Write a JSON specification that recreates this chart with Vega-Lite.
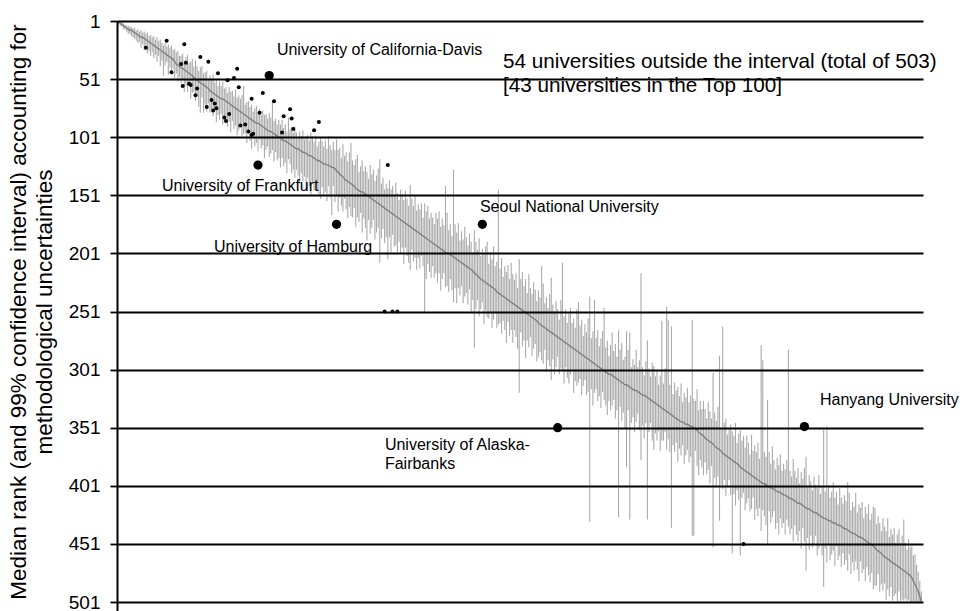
{
"$schema": "https://vega.github.io/schema/vega-lite/v6.json",
"width": 806, "height": 581,
"autosize": {"type": "none"},
"padding": {"left": 117, "top": 21, "right": 37, "bottom": 9},
"background": "white",
"config": {"view": {"stroke": null}, "font": "Liberation Sans"},
"datasets": {
"u": [
{"i":1,"m":1,"l":1,"h":2},{"i":2,"m":2,"l":1,"h":3},{"i":3,"m":3,"l":2,"h":5},{"i":4,"m":4,"l":2,"h":6},{"i":5,"m":5,"l":3,"h":8},{"i":6,"m":6,"l":4,"h":8},{"i":7,"m":7,"l":5,"h":10},{"i":8,"m":8,"l":5,"h":12},{"i":9,"m":9,"l":6,"h":12},{"i":10,"m":9,"l":6,"h":14},
{"i":11,"m":10,"l":7,"h":15},{"i":12,"m":11,"l":7,"h":16},{"i":13,"m":12,"l":9,"h":18},{"i":14,"m":13,"l":8,"h":20},{"i":15,"m":14,"l":10,"h":19},{"i":16,"m":15,"l":9,"h":24},{"i":17,"m":15,"l":11,"h":21},{"i":18,"m":16,"l":10,"h":26},{"i":19,"m":17,"l":12,"h":23},{"i":20,"m":18,"l":11,"h":29},
{"i":21,"m":19,"l":14,"h":27},{"i":22,"m":20,"l":13,"h":31},{"i":23,"m":21,"l":15,"h":28},{"i":24,"m":22,"l":14,"h":33},{"i":25,"m":23,"l":17,"h":30},{"i":26,"m":24,"l":15,"h":36},{"i":27,"m":25,"l":18,"h":31},{"i":28,"m":26,"l":17,"h":40},{"i":29,"m":27,"l":20,"h":35},{"i":30,"m":28,"l":22,"h":48},
{"i":31,"m":29,"l":20,"h":39},{"i":32,"m":30,"l":23,"h":36},{"i":33,"m":31,"l":21,"h":47},{"i":34,"m":32,"l":24,"h":41},{"i":35,"m":33,"l":22,"h":46},{"i":36,"m":34,"l":26,"h":42},{"i":37,"m":36,"l":25,"h":50},{"i":38,"m":38,"l":28,"h":46},{"i":39,"m":39,"l":27,"h":53},{"i":40,"m":40,"l":31,"h":49},
{"i":41,"m":41,"l":31,"h":55},{"i":42,"m":42,"l":29,"h":52},{"i":43,"m":43,"l":35,"h":62},{"i":44,"m":44,"l":32,"h":57},{"i":45,"m":45,"l":30,"h":62},{"i":46,"m":46,"l":37,"h":57},{"i":47,"m":47,"l":36,"h":68},{"i":48,"m":48,"l":34,"h":63},{"i":49,"m":50,"l":40,"h":62},{"i":50,"m":51,"l":35,"h":70},
{"i":51,"m":52,"l":40,"h":66},{"i":52,"m":53,"l":44,"h":75},{"i":53,"m":54,"l":41,"h":80},{"i":54,"m":55,"l":40,"h":67},{"i":55,"m":56,"l":46,"h":80},{"i":56,"m":57,"l":45,"h":73},{"i":57,"m":58,"l":44,"h":79},{"i":58,"m":59,"l":51,"h":72},{"i":59,"m":61,"l":48,"h":80},{"i":60,"m":62,"l":51,"h":77},
{"i":61,"m":63,"l":47,"h":83},{"i":62,"m":64,"l":54,"h":76},{"i":63,"m":65,"l":52,"h":88},{"i":64,"m":66,"l":57,"h":82},{"i":65,"m":67,"l":53,"h":86},{"i":66,"m":68,"l":57,"h":81},{"i":67,"m":68,"l":53,"h":90},{"i":68,"m":69,"l":59,"h":86},{"i":69,"m":70,"l":58,"h":84},{"i":70,"m":71,"l":63,"h":92},
{"i":71,"m":72,"l":58,"h":88},{"i":72,"m":73,"l":62,"h":97},{"i":73,"m":74,"l":61,"h":87},{"i":74,"m":75,"l":66,"h":94},{"i":75,"m":76,"l":60,"h":91},{"i":76,"m":77,"l":67,"h":99},{"i":77,"m":78,"l":65,"h":95},{"i":78,"m":79,"l":68,"h":91},{"i":79,"m":80,"l":65,"h":100},{"i":80,"m":81,"l":57,"h":98},
{"i":81,"m":82,"l":73,"h":98},{"i":82,"m":83,"l":71,"h":106},{"i":83,"m":84,"l":70,"h":98},{"i":84,"m":85,"l":75,"h":104},{"i":85,"m":86,"l":73,"h":111},{"i":86,"m":87,"l":79,"h":102},{"i":87,"m":88,"l":76,"h":109},{"i":88,"m":89,"l":74,"h":106},{"i":89,"m":89,"l":79,"h":113},{"i":90,"m":90,"l":77,"h":103},
{"i":91,"m":91,"l":82,"h":111},{"i":92,"m":92,"l":78,"h":108},{"i":93,"m":93,"l":82,"h":119},{"i":94,"m":94,"l":81,"h":112},{"i":95,"m":95,"l":85,"h":109},{"i":96,"m":96,"l":80,"h":118},{"i":97,"m":96,"l":84,"h":115},{"i":98,"m":97,"l":69,"h":112},{"i":99,"m":98,"l":87,"h":122},{"i":100,"m":99,"l":85,"h":114},
{"i":101,"m":100,"l":90,"h":121},{"i":102,"m":101,"l":86,"h":119},{"i":103,"m":102,"l":90,"h":127},{"i":104,"m":103,"l":86,"h":119},{"i":105,"m":104,"l":93,"h":126},{"i":106,"m":104,"l":90,"h":123},{"i":107,"m":105,"l":96,"h":132},{"i":108,"m":106,"l":84,"h":120},{"i":109,"m":107,"l":94,"h":124},{"i":110,"m":108,"l":92,"h":132},
{"i":111,"m":109,"l":97,"h":129},{"i":112,"m":110,"l":92,"h":136},{"i":113,"m":111,"l":97,"h":129},{"i":114,"m":111,"l":101,"h":134},{"i":115,"m":112,"l":96,"h":141},{"i":116,"m":113,"l":100,"h":132},{"i":117,"m":114,"l":95,"h":139},{"i":118,"m":114,"l":103,"h":135},{"i":119,"m":115,"l":100,"h":146},{"i":120,"m":116,"l":99,"h":136},
{"i":121,"m":117,"l":104,"h":143},{"i":122,"m":117,"l":97,"h":150},{"i":123,"m":118,"l":100,"h":140},{"i":124,"m":119,"l":105,"h":147},{"i":125,"m":120,"l":100,"h":139},{"i":126,"m":121,"l":109,"h":146},{"i":127,"m":121,"l":105,"h":152},{"i":128,"m":122,"l":101,"h":154},{"i":129,"m":123,"l":104,"h":144},{"i":130,"m":124,"l":109,"h":151},
{"i":131,"m":124,"l":104,"h":148},{"i":132,"m":125,"l":111,"h":156},{"i":133,"m":125,"l":100,"h":143},{"i":134,"m":126,"l":108,"h":153},{"i":135,"m":127,"l":112,"h":168},{"i":136,"m":127,"l":105,"h":143},{"i":137,"m":128,"l":112,"h":157},{"i":138,"m":130,"l":103,"h":152},{"i":139,"m":131,"l":112,"h":165},{"i":140,"m":133,"l":110,"h":153},
{"i":141,"m":134,"l":119,"h":160},{"i":142,"m":135,"l":107,"h":165},{"i":143,"m":137,"l":117,"h":154},{"i":144,"m":138,"l":114,"h":163},{"i":145,"m":139,"l":122,"h":171},{"i":146,"m":140,"l":114,"h":161},{"i":147,"m":141,"l":106,"h":169},{"i":148,"m":142,"l":121,"h":170},{"i":149,"m":143,"l":125,"h":162},{"i":150,"m":145,"l":120,"h":178},
{"i":151,"m":146,"l":116,"h":170},{"i":152,"m":147,"l":131,"h":174},{"i":153,"m":148,"l":126,"h":166},{"i":154,"m":148,"l":121,"h":183},{"i":155,"m":149,"l":130,"h":171},{"i":156,"m":150,"l":126,"h":179},{"i":157,"m":151,"l":131,"h":190},{"i":158,"m":152,"l":137,"h":172},{"i":159,"m":153,"l":125,"h":184},{"i":160,"m":154,"l":133,"h":179},
{"i":161,"m":155,"l":129,"h":172},{"i":162,"m":156,"l":139,"h":189},{"i":163,"m":157,"l":134,"h":183},{"i":164,"m":158,"l":128,"h":179},{"i":165,"m":159,"l":120,"h":209},{"i":166,"m":160,"l":141,"h":188},{"i":167,"m":161,"l":136,"h":180},{"i":168,"m":162,"l":146,"h":192},{"i":169,"m":163,"l":141,"h":187},{"i":170,"m":164,"l":145,"h":206},
{"i":171,"m":165,"l":138,"h":187},{"i":172,"m":166,"l":146,"h":200},{"i":173,"m":167,"l":143,"h":185},{"i":174,"m":168,"l":150,"h":195},{"i":175,"m":169,"l":140,"h":194},{"i":176,"m":170,"l":149,"h":201},{"i":177,"m":171,"l":155,"h":191},{"i":178,"m":172,"l":146,"h":201},{"i":179,"m":173,"l":150,"h":196},{"i":180,"m":174,"l":155,"h":210},
{"i":181,"m":175,"l":147,"h":196},{"i":182,"m":176,"l":154,"h":203},{"i":183,"m":177,"l":160,"h":209},{"i":184,"m":178,"l":142,"h":215},{"i":185,"m":179,"l":154,"h":198},{"i":186,"m":180,"l":160,"h":208},{"i":187,"m":181,"l":151,"h":205},{"i":188,"m":182,"l":164,"h":215},{"i":189,"m":183,"l":159,"h":205},{"i":190,"m":184,"l":163,"h":214},
{"i":191,"m":185,"l":158,"h":203},{"i":192,"m":186,"l":170,"h":212},{"i":193,"m":187,"l":158,"h":252},{"i":194,"m":188,"l":165,"h":223},{"i":195,"m":189,"l":160,"h":210},{"i":196,"m":190,"l":171,"h":217},{"i":197,"m":191,"l":166,"h":222},{"i":198,"m":192,"l":170,"h":212},{"i":199,"m":193,"l":176,"h":222},{"i":200,"m":194,"l":166,"h":218},
{"i":201,"m":195,"l":171,"h":226},{"i":202,"m":196,"l":165,"h":218},{"i":203,"m":197,"l":178,"h":233},{"i":204,"m":198,"l":171,"h":223},{"i":205,"m":199,"l":177,"h":218},{"i":206,"m":200,"l":143,"h":230},{"i":207,"m":201,"l":166,"h":229},{"i":208,"m":201,"l":181,"h":234},{"i":209,"m":202,"l":176,"h":223},{"i":210,"m":203,"l":186,"h":233},
{"i":211,"m":204,"l":129,"h":243},{"i":212,"m":205,"l":176,"h":231},{"i":213,"m":206,"l":183,"h":244},{"i":214,"m":207,"l":175,"h":231},{"i":215,"m":208,"l":190,"h":237},{"i":216,"m":209,"l":182,"h":229},{"i":217,"m":210,"l":189,"h":244},{"i":218,"m":211,"l":178,"h":238},{"i":219,"m":212,"l":187,"h":235},{"i":220,"m":213,"l":194,"h":245},
{"i":221,"m":214,"l":184,"h":232},{"i":222,"m":215,"l":191,"h":251},{"i":223,"m":216,"l":200,"h":241},{"i":224,"m":218,"l":181,"h":282},{"i":225,"m":219,"l":191,"h":249},{"i":226,"m":220,"l":198,"h":241},{"i":227,"m":222,"l":188,"h":255},{"i":228,"m":223,"l":203,"h":249},{"i":229,"m":224,"l":197,"h":243},{"i":230,"m":225,"l":202,"h":262},
{"i":231,"m":226,"l":195,"h":250},{"i":232,"m":227,"l":191,"h":256},{"i":233,"m":228,"l":210,"h":257},{"i":234,"m":229,"l":200,"h":251},{"i":235,"m":230,"l":206,"h":265},{"i":236,"m":231,"l":195,"h":258},{"i":237,"m":232,"l":212,"h":252},{"i":238,"m":234,"l":208,"h":265},{"i":239,"m":235,"l":146,"h":262},{"i":240,"m":236,"l":214,"h":261},
{"i":241,"m":237,"l":205,"h":270},{"i":242,"m":238,"l":221,"h":259},{"i":243,"m":239,"l":212,"h":267},{"i":244,"m":240,"l":217,"h":278},{"i":245,"m":241,"l":211,"h":260},{"i":246,"m":242,"l":223,"h":272},{"i":247,"m":243,"l":209,"h":267},{"i":248,"m":244,"l":219,"h":278},{"i":249,"m":245,"l":224,"h":267},{"i":250,"m":246,"l":218,"h":273},
{"i":251,"m":247,"l":231,"h":283},{"i":252,"m":248,"l":206,"h":321},{"i":253,"m":249,"l":223,"h":269},{"i":254,"m":250,"l":217,"h":281},{"i":255,"m":251,"l":229,"h":276},{"i":256,"m":252,"l":223,"h":291},{"i":257,"m":253,"l":235,"h":276},{"i":258,"m":254,"l":219,"h":282},{"i":259,"m":255,"l":231,"h":273},{"i":260,"m":256,"l":236,"h":289},
{"i":261,"m":257,"l":226,"h":283},{"i":262,"m":258,"l":232,"h":279},{"i":263,"m":259,"l":242,"h":294},{"i":264,"m":261,"l":233,"h":290},{"i":265,"m":262,"l":239,"h":286},{"i":266,"m":263,"l":212,"h":293},{"i":267,"m":264,"l":227,"h":296},{"i":268,"m":265,"l":244,"h":284},{"i":269,"m":266,"l":239,"h":303},{"i":270,"m":267,"l":248,"h":293},
{"i":271,"m":268,"l":236,"h":298},{"i":272,"m":269,"l":222,"h":310},{"i":273,"m":270,"l":245,"h":292},{"i":274,"m":271,"l":251,"h":305},{"i":275,"m":272,"l":242,"h":299},{"i":276,"m":273,"l":249,"h":290},{"i":277,"m":274,"l":258,"h":305},{"i":278,"m":275,"l":241,"h":300},{"i":279,"m":276,"l":209,"h":301},{"i":280,"m":277,"l":255,"h":313},
{"i":281,"m":278,"l":249,"h":299},{"i":282,"m":279,"l":261,"h":308},{"i":283,"m":280,"l":253,"h":313},{"i":284,"m":281,"l":248,"h":305},{"i":285,"m":282,"l":261,"h":301},{"i":286,"m":283,"l":257,"h":321},{"i":287,"m":284,"l":265,"h":311},{"i":288,"m":285,"l":249,"h":315},{"i":289,"m":286,"l":243,"h":312},{"i":290,"m":287,"l":263,"h":309},
{"i":291,"m":288,"l":258,"h":323},{"i":292,"m":289,"l":272,"h":315},{"i":293,"m":290,"l":262,"h":310},{"i":294,"m":291,"l":269,"h":323},{"i":295,"m":292,"l":257,"h":320},{"i":296,"m":293,"l":238,"h":432},{"i":297,"m":294,"l":274,"h":318},{"i":298,"m":295,"l":268,"h":332},{"i":299,"m":296,"l":241,"h":321},{"i":300,"m":297,"l":274,"h":318},
{"i":301,"m":298,"l":267,"h":328},{"i":302,"m":299,"l":281,"h":324},{"i":303,"m":300,"l":274,"h":334},{"i":304,"m":301,"l":268,"h":320},{"i":305,"m":302,"l":248,"h":327},{"i":306,"m":303,"l":282,"h":332},{"i":307,"m":304,"l":276,"h":340},{"i":308,"m":305,"l":289,"h":328},{"i":309,"m":305,"l":280,"h":336},{"i":310,"m":306,"l":269,"h":332},
{"i":311,"m":307,"l":285,"h":327},{"i":312,"m":308,"l":279,"h":343},{"i":313,"m":309,"l":290,"h":336},{"i":314,"m":310,"l":267,"h":428},{"i":315,"m":311,"l":284,"h":333},{"i":316,"m":312,"l":278,"h":345},{"i":317,"m":313,"l":293,"h":338},{"i":318,"m":314,"l":290,"h":352},{"i":319,"m":314,"l":268,"h":385},{"i":320,"m":315,"l":284,"h":336},
{"i":321,"m":316,"l":269,"h":430},{"i":322,"m":317,"l":299,"h":347},{"i":323,"m":318,"l":292,"h":342},{"i":324,"m":319,"l":297,"h":355},{"i":325,"m":319,"l":284,"h":346},{"i":326,"m":320,"l":299,"h":339},{"i":327,"m":321,"l":293,"h":353},{"i":328,"m":322,"l":218,"h":379},{"i":329,"m":323,"l":299,"h":349},{"i":330,"m":323,"l":306,"h":360},
{"i":331,"m":324,"l":294,"h":347},{"i":332,"m":325,"l":276,"h":430},{"i":333,"m":326,"l":300,"h":355},{"i":334,"m":327,"l":307,"h":347},{"i":335,"m":328,"l":295,"h":362},{"i":336,"m":329,"l":298,"h":370},{"i":337,"m":330,"l":307,"h":356},{"i":338,"m":331,"l":302,"h":362},{"i":339,"m":332,"l":314,"h":354},{"i":340,"m":333,"l":306,"h":371},
{"i":341,"m":334,"l":259,"h":362},{"i":342,"m":335,"l":313,"h":362},{"i":343,"m":336,"l":300,"h":355},{"i":344,"m":337,"l":247,"h":370},{"i":345,"m":338,"l":258,"h":361},{"i":346,"m":339,"l":314,"h":372},{"i":347,"m":340,"l":264,"h":437},{"i":348,"m":341,"l":322,"h":366},{"i":349,"m":342,"l":312,"h":372},{"i":350,"m":343,"l":319,"h":364},
{"i":351,"m":344,"l":316,"h":380},{"i":352,"m":345,"l":324,"h":369},{"i":353,"m":346,"l":313,"h":375},{"i":354,"m":346,"l":329,"h":366},{"i":355,"m":347,"l":321,"h":382},{"i":356,"m":348,"l":325,"h":375},{"i":357,"m":348,"l":317,"h":370},{"i":358,"m":349,"l":329,"h":381},{"i":359,"m":350,"l":323,"h":376},{"i":360,"m":350,"l":258,"h":444},
{"i":361,"m":351,"l":326,"h":444},{"i":362,"m":352,"l":328,"h":371},{"i":363,"m":353,"l":318,"h":384},{"i":364,"m":355,"l":336,"h":392},{"i":365,"m":356,"l":328,"h":379},{"i":366,"m":357,"l":335,"h":385},{"i":367,"m":358,"l":328,"h":392},{"i":368,"m":360,"l":335,"h":381},{"i":369,"m":361,"l":343,"h":391},{"i":370,"m":362,"l":329,"h":387},
{"i":371,"m":363,"l":337,"h":399},{"i":372,"m":364,"l":343,"h":384},{"i":373,"m":365,"l":304,"h":454},{"i":374,"m":367,"l":338,"h":394},{"i":375,"m":368,"l":345,"h":401},{"i":376,"m":369,"l":333,"h":393},{"i":377,"m":370,"l":289,"h":431},{"i":378,"m":371,"l":351,"h":400},{"i":379,"m":373,"l":264,"h":404},{"i":380,"m":374,"l":347,"h":396},
{"i":381,"m":375,"l":343,"h":410},{"i":382,"m":376,"l":357,"h":402},{"i":383,"m":377,"l":352,"h":396},{"i":384,"m":378,"l":348,"h":409},{"i":385,"m":379,"l":354,"h":459},{"i":386,"m":380,"l":358,"h":408},{"i":387,"m":381,"l":347,"h":418},{"i":388,"m":382,"l":364,"h":405},{"i":389,"m":383,"l":356,"h":413},{"i":390,"m":385,"l":353,"h":461},
{"i":391,"m":386,"l":362,"h":411},{"i":392,"m":387,"l":358,"h":407},{"i":393,"m":388,"l":368,"h":422},{"i":394,"m":389,"l":358,"h":416},{"i":395,"m":390,"l":364,"h":412},{"i":396,"m":391,"l":374,"h":423},{"i":397,"m":392,"l":357,"h":421},{"i":398,"m":393,"l":371,"h":411},{"i":399,"m":394,"l":366,"h":430},{"i":400,"m":395,"l":372,"h":421},
{"i":401,"m":396,"l":364,"h":427},{"i":402,"m":397,"l":378,"h":420},{"i":403,"m":398,"l":280,"h":440},{"i":404,"m":399,"l":293,"h":422},{"i":405,"m":399,"l":372,"h":427},{"i":406,"m":400,"l":376,"h":435},{"i":407,"m":401,"l":327,"h":451},{"i":408,"m":402,"l":372,"h":423},{"i":409,"m":403,"l":382,"h":433},{"i":410,"m":403,"l":367,"h":428},
{"i":411,"m":404,"l":379,"h":423},{"i":412,"m":405,"l":387,"h":438},{"i":413,"m":406,"l":377,"h":433},{"i":414,"m":406,"l":383,"h":443},{"i":415,"m":407,"l":374,"h":429},{"i":416,"m":408,"l":388,"h":437},{"i":417,"m":409,"l":382,"h":433},{"i":418,"m":409,"l":387,"h":443},{"i":419,"m":410,"l":379,"h":430},{"i":420,"m":411,"l":284,"h":436},
{"i":421,"m":412,"l":388,"h":443},{"i":422,"m":412,"l":393,"h":438},{"i":423,"m":413,"l":378,"h":449},{"i":424,"m":414,"l":388,"h":435},{"i":425,"m":415,"l":394,"h":443},{"i":426,"m":416,"l":386,"h":449},{"i":427,"m":416,"l":399,"h":440},{"i":428,"m":417,"l":389,"h":455},{"i":429,"m":418,"l":395,"h":437},{"i":430,"m":419,"l":386,"h":449},
{"i":431,"m":420,"l":376,"h":474},{"i":432,"m":421,"l":401,"h":446},{"i":433,"m":421,"l":392,"h":456},{"i":434,"m":422,"l":397,"h":444},{"i":435,"m":423,"l":405,"h":454},{"i":436,"m":424,"l":393,"h":451},{"i":437,"m":424,"l":400,"h":444},{"i":438,"m":425,"l":403,"h":461},{"i":439,"m":426,"l":392,"h":455},{"i":440,"m":427,"l":408,"h":450},
{"i":441,"m":428,"l":401,"h":461},{"i":442,"m":429,"l":353,"h":488},{"i":443,"m":429,"l":406,"h":455},{"i":444,"m":430,"l":350,"h":467},{"i":445,"m":431,"l":401,"h":452},{"i":446,"m":431,"l":411,"h":465},{"i":447,"m":432,"l":406,"h":460},{"i":448,"m":433,"l":398,"h":457},{"i":449,"m":433,"l":411,"h":470},{"i":450,"m":434,"l":406,"h":453},
{"i":451,"m":435,"l":417,"h":465},{"i":452,"m":435,"l":403,"h":461},{"i":453,"m":436,"l":411,"h":471},{"i":454,"m":437,"l":416,"h":459},{"i":455,"m":438,"l":409,"h":469},{"i":456,"m":438,"l":414,"h":465},{"i":457,"m":439,"l":398,"h":474},{"i":458,"m":440,"l":407,"h":460},{"i":459,"m":441,"l":422,"h":477},{"i":460,"m":442,"l":415,"h":467},
{"i":461,"m":442,"l":419,"h":474},{"i":462,"m":443,"l":407,"h":466},{"i":463,"m":444,"l":424,"h":473},{"i":464,"m":445,"l":417,"h":483},{"i":465,"m":445,"l":420,"h":466},{"i":466,"m":446,"l":415,"h":476},{"i":467,"m":447,"l":429,"h":473},{"i":468,"m":448,"l":419,"h":483},{"i":469,"m":449,"l":425,"h":471},{"i":470,"m":450,"l":417,"h":478},
{"i":471,"m":451,"l":430,"h":484},{"i":472,"m":452,"l":425,"h":476},{"i":473,"m":453,"l":419,"h":490},{"i":474,"m":454,"l":420,"h":487},{"i":475,"m":456,"l":434,"h":487},{"i":476,"m":457,"l":427,"h":477},{"i":477,"m":458,"l":433,"h":492},{"i":478,"m":459,"l":440,"h":486},{"i":479,"m":461,"l":429,"h":491},{"i":480,"m":462,"l":436,"h":485},
{"i":481,"m":463,"l":440,"h":499},{"i":482,"m":464,"l":429,"h":490},{"i":483,"m":465,"l":445,"h":496},{"i":484,"m":466,"l":438,"h":488},{"i":485,"m":467,"l":443,"h":500},{"i":486,"m":468,"l":437,"h":496},{"i":487,"m":469,"l":450,"h":494},{"i":488,"m":470,"l":443,"h":501},{"i":489,"m":471,"l":438,"h":492},{"i":490,"m":472,"l":450,"h":501},
{"i":491,"m":473,"l":444,"h":499},{"i":492,"m":474,"l":430,"h":500},{"i":493,"m":475,"l":450,"h":498},{"i":494,"m":476,"l":456,"h":502},{"i":495,"m":477,"l":447,"h":499},{"i":496,"m":478,"l":454,"h":502},{"i":497,"m":480,"l":453,"h":501},{"i":498,"m":483,"l":461,"h":502},{"i":499,"m":486,"l":460,"h":502},{"i":500,"m":489,"l":469,"h":502},
{"i":501,"m":492,"l":475,"h":503},{"i":502,"m":496,"l":483,"h":503},{"i":503,"m":501,"l":492,"h":503}
],
"out": [
{"i":19,"r":24},{"i":32,"r":18},{"i":43,"r":21},{"i":35,"r":45},{"i":41,"r":38},{"i":44,"r":37},{"i":53,"r":32},{"i":58,"r":36},{"i":42,"r":57},{"i":46,"r":55},{"i":47,"r":56},{"i":51,"r":59},{"i":50,"r":65},{"i":64,"r":46},{"i":70,"r":52},{"i":74,"r":50},{"i":76,"r":42},{"i":77,"r":58},{"i":57,"r":75},{"i":60,"r":69},{"i":62,"r":72},{"i":61,"r":78},{"i":63,"r":76},{"i":68,"r":84},{"i":69,"r":87},{"i":71,"r":81},{"i":78,"r":91},{"i":81,"r":90},{"i":83,"r":96},{"i":85,"r":99},{"i":86,"r":98},{"i":85,"r":68},{"i":92,"r":63},{"i":90,"r":80},{"i":99,"r":70},{"i":104,"r":97},{"i":105,"r":83},{"i":109,"r":77},{"i":110,"r":85},{"i":111,"r":94},{"i":124,"r":95},{"i":127,"r":88},{"i":170,"r":125},{"i":168,"r":251},{"i":173,"r":251},{"i":176,"r":251},{"i":392,"r":451}
],
"big": [
{"i":96,"r":48,"name":"University of California-Davis"},{"i":89,"r":125,"name":"University of Frankfurt"},{"i":138,"r":176,"name":"University of Hamburg"},{"i":229,"r":176,"name":"Seoul National University"},{"i":276,"r":351,"name":"University of Alaska-Fairbanks"},{"i":430,"r":350,"name":"Hanyang University"}
],
"labels": [
{"i":100.8,"r":26,"t":"University of California-Davis"},{"i":29.1,"r":143,"t":"University of Frankfurt"},{"i":61.5,"r":195.5,"t":"University of Hamburg"},{"i":227.5,"r":161,"t":"Seoul National University"},{"i":168.2,"r":366,"t":"University of Alaska-"},{"i":168.2,"r":382,"t":"Fairbanks"},{"i":439.7,"r":327,"t":"Hanyang University"}
],
"notes": [
{"i":241.9,"r":36.3,"t":"54 universities outside the interval (total of 503)"},{"i":241.9,"r":57,"t":"[43 universities in the Top 100]"}
]
},
"layer": [
{
"data": {"name": "u"},
"mark": {"type": "rule", "color": "#aaaaaa", "strokeWidth": 1.1, "clip": true},
"encoding": {
"x": {"field": "i", "type": "quantitative", "scale": {"domain": [1, 504], "nice": false, "zero": false},
"axis": {"values": [1], "labels": false, "domain": false, "grid": false, "ticks": true, "tickSize": 9, "tickColor": "black", "tickWidth": 2, "title": null}},
"y": {"field": "l", "type": "quantitative", "scale": {"domain": [1, 501], "reverse": true, "nice": false, "zero": false},
"axis": {"values": [1,51,101,151,201,251,301,351,401,451,501], "grid": true, "gridColor": "black", "gridWidth": 1.8, "tickColor": "black", "tickSize": 7, "tickWidth": 1.8, "domainColor": "black", "domainWidth": 2, "labelFontSize": 19, "labelFont": "Liberation Sans", "labelColor": "black", "labelPadding": 10, "title": ["Median rank (and 99% confidence interval) accounting for", "methodological uncertainties"], "titleFont": "Liberation Sans", "titleFontSize": 22.5, "titleFontWeight": "normal", "titleColor": "black", "titlePadding": 12, "titleLineHeight": 26, "zindex": 1}},
"y2": {"field": "h"}
}
},
{
"data": {"name": "u"},
"mark": {"type": "line", "color": "#808080", "strokeWidth": 1.4, "clip": true},
"encoding": {
"x": {"field": "i", "type": "quantitative", "scale": {"domain": [1, 504], "nice": false, "zero": false}},
"y": {"field": "m", "type": "quantitative", "scale": {"domain": [1, 501], "reverse": true, "nice": false, "zero": false}}
}
},
{
"data": {"name": "out"},
"mark": {"type": "point", "filled": true, "color": "black", "size": 16, "opacity": 1},
"encoding": {
"x": {"field": "i", "type": "quantitative", "scale": {"domain": [1, 504], "nice": false, "zero": false}},
"y": {"field": "r", "type": "quantitative", "scale": {"domain": [1, 501], "reverse": true, "nice": false, "zero": false}}
}
},
{
"data": {"name": "big"},
"mark": {"type": "point", "filled": true, "color": "black", "size": 85, "opacity": 1},
"encoding": {
"x": {"field": "i", "type": "quantitative", "scale": {"domain": [1, 504], "nice": false, "zero": false}},
"y": {"field": "r", "type": "quantitative", "scale": {"domain": [1, 501], "reverse": true, "nice": false, "zero": false}}
}
},
{
"data": {"name": "labels"},
"mark": {"type": "text", "align": "left", "baseline": "middle", "font": "Liberation Sans", "fontSize": 16, "color": "black"},
"encoding": {
"x": {"field": "i", "type": "quantitative", "scale": {"domain": [1, 504], "nice": false, "zero": false}},
"y": {"field": "r", "type": "quantitative", "scale": {"domain": [1, 501], "reverse": true, "nice": false, "zero": false}},
"text": {"field": "t"}
}
},
{
"data": {"name": "notes"},
"mark": {"type": "text", "align": "left", "baseline": "middle", "font": "Liberation Sans", "fontSize": 20.7, "color": "black"},
"encoding": {
"x": {"field": "i", "type": "quantitative", "scale": {"domain": [1, 504], "nice": false, "zero": false}},
"y": {"field": "r", "type": "quantitative", "scale": {"domain": [1, 501], "reverse": true, "nice": false, "zero": false}},
"text": {"field": "t"}
}
}
]
}
